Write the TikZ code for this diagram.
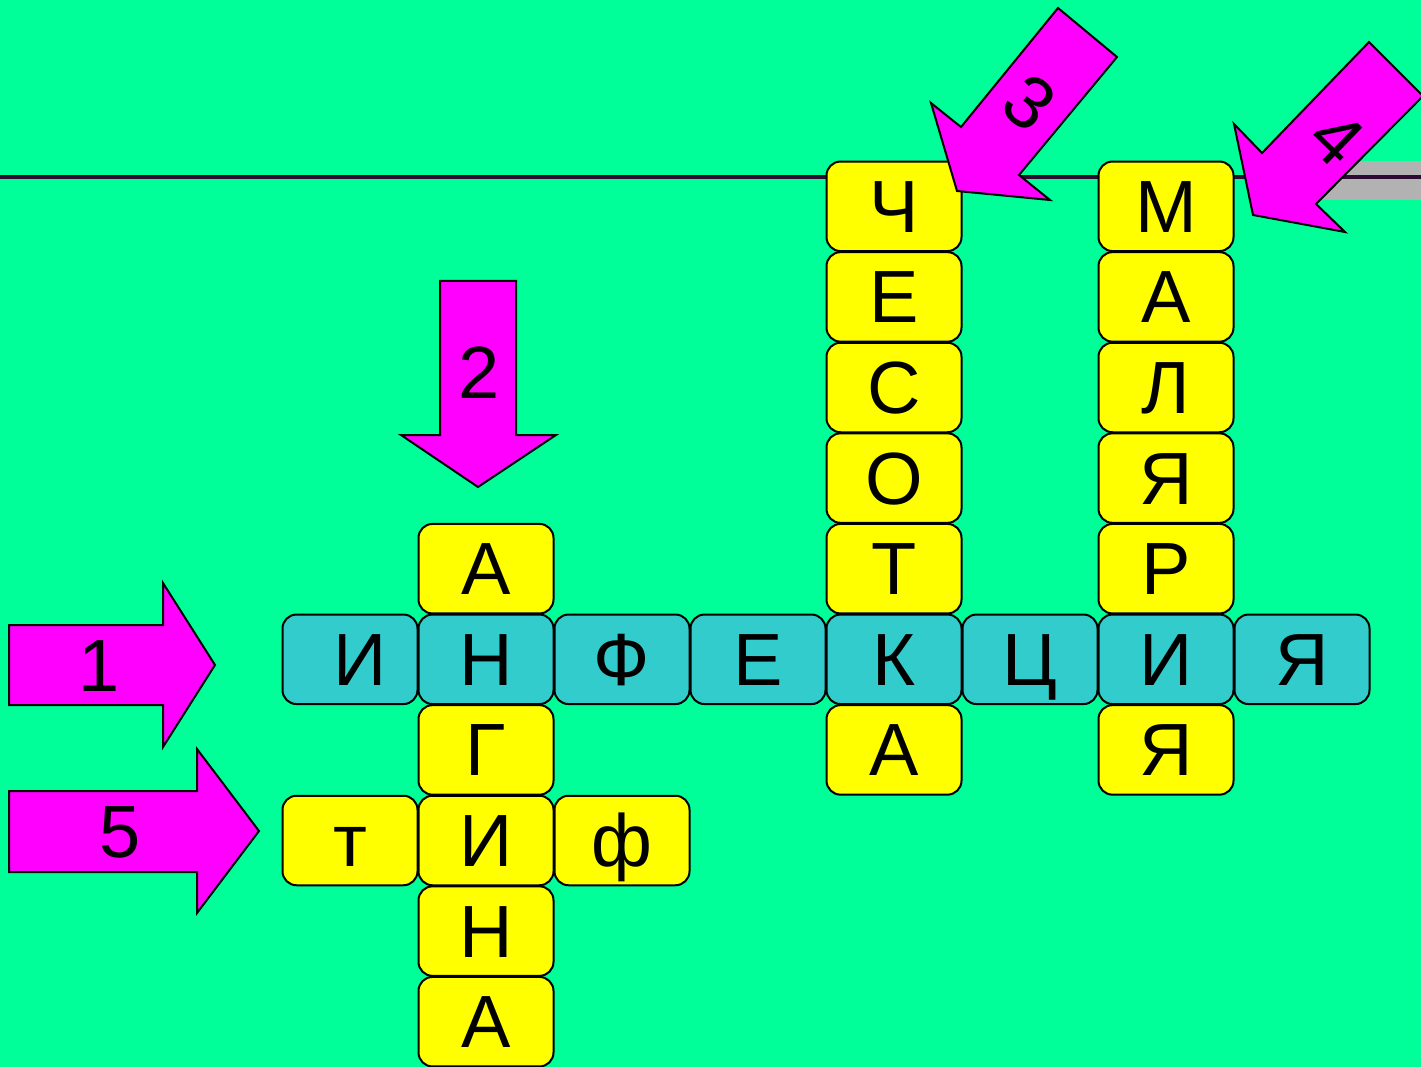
\documentclass[tikz,border=0pt]{standalone}
\usepackage{fontspec}
\setmainfont{Liberation Sans}
\definecolor{bgcol}{RGB}{0,255,153}
\definecolor{cellteal}{RGB}{51,204,204}
\definecolor{cellyel}{RGB}{255,255,0}
\definecolor{mag}{RGB}{255,0,255}
\definecolor{linecol}{RGB}{45,10,50}
\definecolor{barg}{RGB}{178,178,178}
\tikzset{
  cell/.style={draw=black, line width=2pt, rounded corners=14pt,
    minimum width=135pt, minimum height=89.5pt, inner sep=0pt,
    text height=52pt, text depth=0pt, font=\fontsize{74}{80}\selectfont},
  ycell/.style={cell, fill=cellyel},
  tcell/.style={cell, fill=cellteal},
  arrowshape/.style={fill=mag, draw=black, line width=2pt, line join=miter},
  lab/.style={font=\fontsize{74}{80}\selectfont, inner sep=0pt,
    text height=52pt, text depth=0pt}
}
\newcommand\cx[1]{{350+136*#1}}
\newcommand\cy[1]{{206.3+90.6*#1}}
\begin{document}
\begin{tikzpicture}[x=1pt,y=-1pt]
\useasboundingbox (0,0) rectangle (1421,1067);
\clip (0,0) rectangle (1421,1067);
\fill[bgcol] (0,0) rectangle (1421,1067);
% grey bar and horizontal line
\fill[barg] (1300,161) rectangle (1421,200);
\draw[linecol, line width=3.5pt] (0,177) -- (1421,177);
% main word (teal)
\foreach \k/\t in {1/Н,2/Ф,3/Е,4/К,5/Ц,6/И,7/Я}
  \node[tcell] (m\k) at (\cx{\k},\cy{5}) {\t};
\node[tcell] (m0) at (\cx{0},\cy{5}) {\hspace*{20pt}И};
% АНГИНА column
\node[ycell] (a0) at (\cx{1},\cy{4}) {А};
\node[ycell] (a2) at (\cx{1},\cy{6}) {Г};
\node[ycell] (a3) at (\cx{1},\cy{7}) {И};
\node[ycell] (a4) at (\cx{1},\cy{8}) {Н};
\node[ycell] (a5) at (\cx{1},\cy{9}) {А};
\node[ycell] (tf0) at (\cx{0},\cy{7}) {т};
\node[ycell] (tf2) at (\cx{2},\cy{7}) {ф};
% ЧЕСОТКА column
\node[ycell] (c0) at (\cx{4},\cy{0}) {Ч};
\node[ycell] (c1) at (\cx{4},\cy{1}) {Е};
\node[ycell] (c2) at (\cx{4},\cy{2}) {С};
\node[ycell] (c3) at (\cx{4},\cy{3}) {О};
\node[ycell] (c4) at (\cx{4},\cy{4}) {Т};
\node[ycell] (c6) at (\cx{4},\cy{6}) {А};
% МАЛЯРИЯ column
\node[ycell] (r0) at (\cx{6},\cy{0}) {М};
\node[ycell] (r1) at (\cx{6},\cy{1}) {А};
\node[ycell] (r2) at (\cx{6},\cy{2}) {Л};
\node[ycell] (r3) at (\cx{6},\cy{3}) {Я};
\node[ycell] (r4) at (\cx{6},\cy{4}) {Р};
\node[ycell] (r6) at (\cx{6},\cy{6}) {Я};
% arrows
\draw[arrowshape] (9,625) -- (163,625) -- (163,583) -- (215,665) -- (163,747) -- (163,705) -- (9,705) -- cycle;
\node[lab] (n1) at (99,665) {1};
\draw[arrowshape] (9,791) -- (197,791) -- (197,749) -- (259,831) -- (197,913) -- (197,872) -- (9,872) -- cycle;
\node[lab] (n5) at (120,831) {5};
\draw[arrowshape] (440,281) -- (516,281) -- (516,435) -- (556,435) -- (478,487) -- (401,435) -- (440,435) -- cycle;
\node[lab] (n2) at (479,372) {2};
\draw[arrowshape] (1058,8) -- (1117,57) -- (1019,175) -- (1050,200) -- (957,191) -- (931,103) -- (961,127) -- cycle;
\node[lab, rotate=-39] (n3) at (1030,102) {3};
\draw[arrowshape] (1369,42) -- (1423,96) -- (1316,204) -- (1345,232) -- (1253,215) -- (1234,124) -- (1262,153) -- cycle;
\node[lab, rotate=-44] (n4) at (1337,138) {4};
\end{tikzpicture}
\end{document}
